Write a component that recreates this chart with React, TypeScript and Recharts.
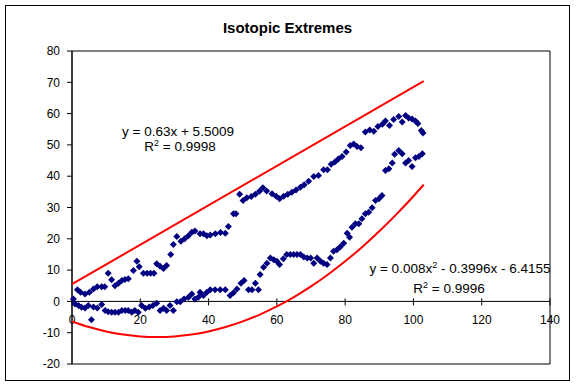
import { ReferenceArea, ReferenceDot, ReferenceLine, Scatter, ScatterChart, XAxis, YAxis } from 'recharts';

const FONT = '"Liberation Sans", Arial, sans-serif';
const NAVY = '#000080';
const RED = '#FF0000';

const xTicks = [0, 20, 40, 60, 80, 100, 120, 140];
const yTicks = [-20, -10, 0, 10, 20, 30, 40, 50, 60, 70, 80];

// upper extreme (x, value)
const upperPoints: [number, number][] = [
  [1.6, 3.7], [2.5, 2.9], [3.8, 2.4], [5.1, 2.9], [6.3, 4.0], [7.4, 4.7], [8.7, 4.7], [9.6, 4.7],
  [10.6, 9.0], [11.6, 6.9], [12.6, 5.0], [13.6, 5.8], [14.6, 6.7], [15.5, 7.0], [16.5, 7.2], [18.0, 9.9],
  [19.0, 12.8], [19.7, 11.1], [20.9, 9.0], [22.0, 9.0], [23.0, 9.0], [24.0, 9.0], [24.8, 12.0], [25.8, 11.2],
  [26.8, 10.5], [27.7, 11.5], [28.9, 15.0], [29.7, 18.2], [30.7, 20.7], [31.9, 19.2], [33.0, 20.0], [34.1, 21.0],
  [35.1, 22.1], [36.0, 22.5], [37.5, 21.6], [38.5, 21.6], [39.5, 21.0], [40.5, 21.2], [42.0, 21.6], [43.5, 22.0],
  [44.9, 21.8], [45.8, 23.9], [47.3, 28.0], [48.0, 28.0], [49.1, 34.2], [50.1, 32.2], [51.2, 33.1], [52.5, 33.5],
  [53.7, 34.2], [54.9, 35.2], [55.9, 36.3], [57.0, 35.3], [58.6, 34.4], [59.8, 33.6], [60.8, 32.8], [62.0, 33.6],
  [63.2, 34.2], [64.4, 34.9], [65.6, 35.6], [66.9, 36.5], [68.0, 37.3], [69.3, 38.4], [70.8, 39.9], [72.2, 40.2],
  [73.7, 42.1], [74.8, 42.1], [75.9, 43.8], [77.0, 44.5], [78.0, 45.5], [79.1, 46.3], [80.3, 47.7], [81.5, 49.8],
  [82.5, 50.3], [83.5, 49.5], [84.6, 49.1], [85.9, 54.1], [87.2, 54.8], [88.4, 54.4], [89.6, 55.9], [90.9, 56.6],
  [91.8, 57.6], [93.0, 56.2], [94.2, 58.1], [95.7, 59.1], [96.7, 57.3], [97.7, 59.4], [98.6, 58.6], [99.6, 58.3],
  [100.6, 57.6], [101.3, 56.8], [102.3, 54.6], [102.8, 53.8],
];

// lower extreme (x, value)
const lowerPoints: [number, number][] = [
  [0.4, 0.8], [0.9, -0.8], [1.9, -1.3], [2.8, -1.9], [3.8, -2.1], [4.8, -1.3], [5.7, -5.9], [6.3, -1.8],
  [7.4, -2.1], [8.7, -1.0], [9.7, -2.9], [10.6, -3.3], [11.6, -3.5], [12.6, -3.5], [13.6, -3.5], [14.6, -2.9],
  [15.6, -2.9], [16.5, -2.9], [17.5, -3.5], [18.4, -2.9], [19.4, -3.5], [20.4, -1.3], [21.5, -2.2], [22.6, -1.8],
  [23.7, -1.3], [24.8, -0.6], [25.8, -2.9], [26.8, -2.2], [27.7, -2.9], [28.7, -1.3], [29.7, -2.9], [30.7, -0.1],
  [31.7, -0.1], [32.8, 0.8], [34.1, 1.3], [35.1, 2.4], [36.0, 0.8], [37.0, 1.3], [37.5, 2.9], [38.5, 1.9],
  [39.5, 2.9], [40.5, 3.7], [41.9, 3.7], [43.4, 3.7], [44.9, 3.7], [46.3, 1.9], [47.3, 2.8], [48.3, 4.0],
  [49.5, 5.8], [50.4, 6.7], [51.7, 3.7], [52.7, 3.7], [53.7, 5.8], [54.6, 3.7], [55.1, 8.6], [56.1, 10.9],
  [57.1, 12.2], [58.1, 13.9], [59.1, 13.3], [60.0, 12.8], [60.8, 11.8], [61.9, 13.6], [62.9, 15.0], [63.9, 15.0],
  [64.9, 15.0], [65.9, 15.0], [66.9, 15.0], [67.9, 14.2], [68.9, 13.9], [69.9, 13.9], [70.8, 12.2], [71.8, 13.9],
  [72.8, 12.8], [73.7, 12.2], [74.7, 11.8], [75.7, 13.9], [76.6, 16.0], [77.6, 16.5], [78.6, 17.5], [79.6, 18.6],
  [80.6, 21.8], [81.3, 20.5], [82.0, 23.7], [83.0, 24.8], [84.0, 24.8], [84.9, 26.4], [85.9, 28.0], [86.9, 28.5],
  [87.9, 29.9], [88.9, 32.2], [89.9, 32.8], [90.8, 33.8], [91.8, 41.8], [92.8, 42.4], [93.8, 44.2], [94.5, 47.0],
  [95.7, 48.2], [96.7, 47.2], [97.7, 44.2], [98.6, 45.0], [99.6, 43.1], [100.6, 45.9], [101.6, 46.3], [102.6, 47.2],
];

// trendline end points / samples
const linearFit: [number, number][] = [[0, 5.5], [103, 70.4]];
const quadFit: [number, number][] = [
  [0, -6.4], [5, -8.2], [10, -9.6], [15, -10.6], [20, -11.2], [25, -11.4], [30, -11.2], [35, -10.6],
  [40, -9.6], [45, -8.2], [50, -6.4], [55, -4.2], [60, -1.6], [65, 1.4], [70, 4.8], [75, 8.6],
  [80, 12.8], [85, 17.4], [90, 22.4], [95, 27.8], [100, 33.6], [103, 37.3],
];

const toXY = (pts: [number, number][]) => pts.map(([x, y]) => ({ x, y }));

const Diamond = (props: any) => {
  const { cx, cy } = props;
  if (cx == null || cy == null) return <g />;
  const r = 3.5;
  return <polygon points={`${cx},${cy - r} ${cx + r},${cy} ${cx},${cy + r} ${cx - r},${cy}`} fill={NAVY} />;
};

const NoDot = () => <g />;

// tick mark + label sitting on the y=0 axis line
const makeXTick = (label: number) => (props: any) => {
  const { cx, cy } = props;
  return (
    <g>
      <line x1={cx} y1={cy - 3} x2={cx} y2={cy + 4} stroke="#000" strokeWidth={1} />
      <text x={cx} y={cy + 23} textAnchor="middle" fontSize={12} fontFamily={FONT} fill="#000">
        {label}
      </text>
    </g>
  );
};

export default function App() {
  return (
    <div style={{ position: 'fixed', left: 0, top: 0, width: 576, height: 386, background: '#fff' }}>
      <div
        style={{
          position: 'absolute', left: 5, top: 5, width: 565, height: 376,
          border: '1px solid #000', boxSizing: 'border-box',
        }}
      />
      <div style={{ position: 'absolute', left: 0, top: 0 }}>
        <ScatterChart width={576} height={386} margin={{ top: 51, right: 26, bottom: 22, left: 32 }}>
          <XAxis type="number" dataKey="x" domain={[0, 140]} ticks={xTicks} hide />
          <YAxis
            type="number"
            dataKey="y"
            domain={[-20, 80]}
            ticks={yTicks}
            interval={0}
            width={40}
            tickSize={5}
            tickMargin={7}
            axisLine={{ stroke: '#000' }}
            tickLine={{ stroke: '#000' }}
            tick={{ fill: '#000', fontSize: 12, fontFamily: FONT }}
          />
          <ReferenceArea x1={0} x2={140} y1={-20} y2={80} fill="none" stroke="#000" strokeWidth={1} />
          <ReferenceLine y={0} stroke="#000" strokeWidth={1} />
          {xTicks.map((t) => (
            <ReferenceDot key={t} x={t} y={0} r={0} shape={makeXTick(t)} />
          ))}
          <Scatter data={toXY(upperPoints)} shape={Diamond} isAnimationActive={false} />
          <Scatter data={toXY(lowerPoints)} shape={Diamond} isAnimationActive={false} />
          <Scatter
            data={toXY(linearFit)}
            shape={NoDot}
            line={{ stroke: RED, strokeWidth: 2 }}
            isAnimationActive={false}
          />
          <Scatter
            data={toXY(quadFit)}
            shape={NoDot}
            line={{ stroke: RED, strokeWidth: 2 }}
            lineJointType="monotoneX"
            isAnimationActive={false}
          />
        </ScatterChart>
      </div>
      <svg width={576} height={386} style={{ position: 'absolute', left: 0, top: 0, pointerEvents: 'none' }}>
        <text x={287.5} y={33} textAnchor="middle" fontSize={15} fontWeight="bold" fontFamily={FONT} fill="#000">
          Isotopic Extremes
        </text>
        <text x={178} y={136} textAnchor="middle" fontSize={13.5} fontFamily={FONT} fill="#000">
          y = 0.63x + 5.5009
        </text>
        <text x={180} y={151} textAnchor="middle" fontSize={13.5} fontFamily={FONT} fill="#000">
          R<tspan dy={-5} fontSize={9}>2</tspan><tspan dy={5}> = 0.9998</tspan>
        </text>
        <text x={460} y={273} textAnchor="middle" fontSize={13.5} fontFamily={FONT} fill="#000">
          y = 0.008x<tspan dy={-5} fontSize={9}>2</tspan><tspan dy={5}> - 0.3996x - 6.4155</tspan>
        </text>
        <text x={449} y={293} textAnchor="middle" fontSize={13.5} fontFamily={FONT} fill="#000">
          R<tspan dy={-5} fontSize={9}>2</tspan><tspan dy={5}> = 0.9996</tspan>
        </text>
      </svg>
    </div>
  );
}
